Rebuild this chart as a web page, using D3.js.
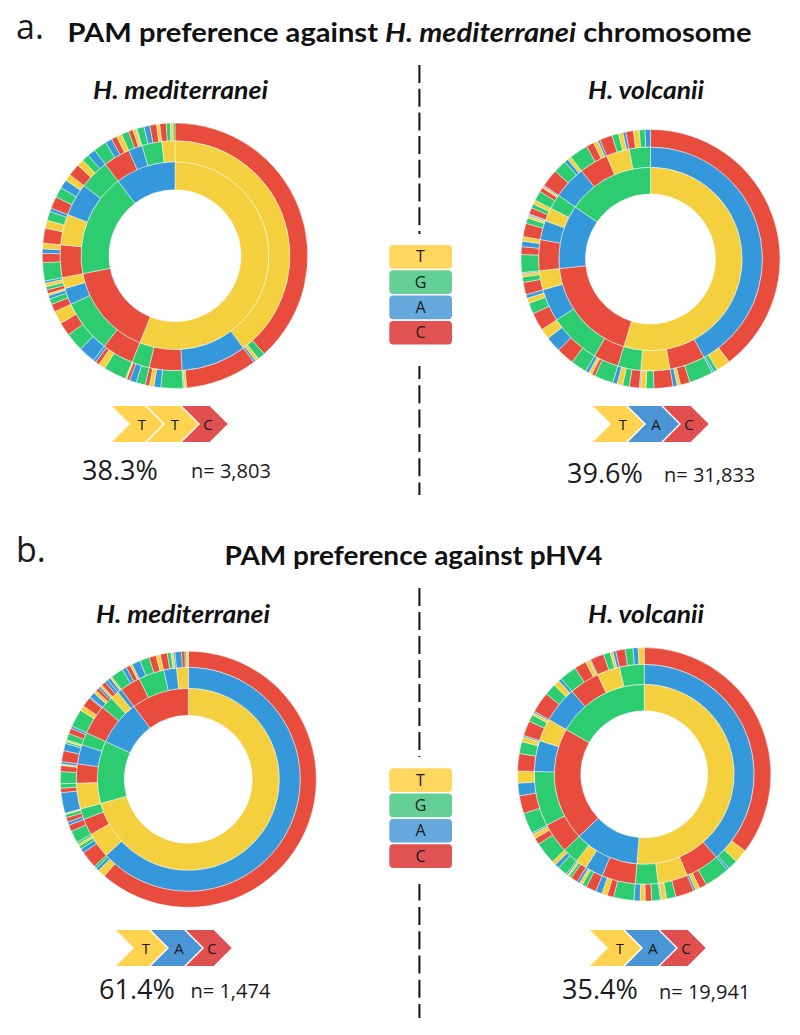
<!DOCTYPE html>
<html><head><meta charset="utf-8">
<style>html,body{margin:0;padding:0;background:#fff}svg{display:block}</style>
<script src="https://cdn.jsdelivr.net/npm/d3@7"></script></head>
<body><svg id="c" width="800" height="1035"></svg>
<script>
// Nucleotide order and colours
const bases = ["T","G","A","C"];
const ringColors = ["#f4d03f","#2ecc71","#3498db","#e74c3c"];
const keyColors = ["#ffd75e","#64cf96","#65a8db","#e15252"];
const arrowColors = ["#ffd34f","#64cf96","#4a95d5","#e05050"];

// H. mediterranei vs chromosome: share of reads (out of 360) per ring
const chrMedRing1Bases = "TCGA";
const chrMedRing1 = [202,57,63.7,37.3];
const chrMedRing2Bases = "TACG"+"CGAT"+"CTAG"+"CAGT";
const chrMedRing2 = [143.5,33,16.5,9, 16,27,8.4,5.6, 16.5,15.5,16.6,15.1, 13.6,7,10.1,6.6];
const chrMedRing3Bases = "CGTA"+"CTG"+"GATC"+"GACT"+"GTCA"+"AGCT"+"CGAT"+"CGTA"+"GCAT"+"CTGA"+"CGAT"+"CTGA"+"GACT"+"GCTA"+"GACT"+"CGTG";
const chrMedRing3 = [137.7,3.3,1.5,1, 31.5,1,.5, 9.7,3,2,1.8, 4,3,1.4,.6, 10,3,1.7,1.3, 7.4,8,6,5.6, 3.5,2.5,1.5,.9, 1.6,1.5,1.5,1, 8,4,2,2.5, 6.5,3.5,4,1.5, 5.3,4.5,3.9,2.9, 5.4,3,3.2,3.5, 5.8,3,2.5,2.3, 3.2,2,1.5,.3, 3.2,2.5,3,1.4, 2.8,1.8,1.2,.8];

// H. volcanii vs chromosome
const chrVolRing1Bases = "TCAG";
const chrVolRing1 = [197,67,40.7,55.3];
const chrVolRing2Bases = "ACTG"+"CGAT"+"CATG"+"ACTG";
const chrVolRing2 = [151.5,18.5,15,12, 13,27,17,10, 16,10,7,7.7, 17.3,15,12,11];
const chrVolRing3Bases = "CTGA"+"GCTA"+"CGTA"+"CGTA"+"GCTA"+"GCAT"+"CGTA"+"CGTA"+"GCAT"+"CGTA"+"ACGT"+"GCTA"+"CGAT"+"GCTA"+"CGTA"+"CTGA";
const chrVolRing3 = [142.6,6.4,1.7,.8, 10.8,4.3,1.5,1.9, 8.5,3.5,2.5,.5, 4.5,3,2.5,2, 8.5,1.5,1.5,1.5, 7.3,8,7,4.7, 8,5,2.3,1.7, 5.5,2.5,1.5,.5, 8,3.5,2.5,2, 6,2.5,1,.5, .4,2.9,1.9,1.8, 4.4,2,.8,.5, 8,5.9,1.7,1.7, 8.4,3.5,2.1,1, 5.7,3,2,1.3, 3.4,2.6,2.6,2.4];

// H. mediterranei vs pHV4
const phvMedRing1Bases = "TGAC";
const phvMedRing1 = [254.6,40,28.7,36.7];
const phvMedRing2Bases = "ATCG"+"TCAG"+"CGTA"+"CGAT";
const phvMedRing2 = [227.2,13.3,8.5,5.6, 13.4,10,10,6.6, 15.4,6.5,4.5,2.3, 10.7,13.3,6.7,6];
const phvMedRing3Bases = "CTAG"+"CAGTG"+"GC"+"ACGT"+"ACG"+"GCTA"+"CAGT"+"GCA"+"GTCA"+"ATCA"+"TCA"+"AT"+"GACT"+"AGCT"+"CGTA"+"ACGT";
const phvMedRing3 = [221,3.5,1.5,1.2, 7.8,2,1.5,1,1, 5.5,3, 1.5,2,1.5,.6, 9.4,2,2, 5.5,2.7,.7,1.1, 5,3.3,.9,.8, 3,2.5,1.1, 8.1,2.3,4.5,.5, 2.5,1.5,1.5,1, 1,2,1.5, 1.4,.9, 5.7,2,2,1, 3.8,4.4,3.2,1.9, 3.2,1.7,1.1,.7, 3,1.5,.8,.7];

// H. volcanii vs pHV4
const phvVolRing1Bases = "TACG";
const phvVolRing1 = [184.7,41.7,73.5,60.1];
const phvVolRing2Bases = "ACTG"+"CATG"+"CGAT"+"ACTG";
const phvVolRing2 = [139,18,15.7,12, 17.8,9.5,6,8.4, 16,29.1,16.4,12, 19.1,16,12,13];
const phvVolRing3Bases = "CTGA"+"GCTA"+"CGTA"+"GCTA"+"GCTA"+"CGTA"+"CGTA"+"GAT"+"GCTA"+"GCAT"+"CGTA"+"CGTA"+"CGTA"+"GCTA"+"CGTA"+"CGAT";
const phvVolRing3 = [127.3,6.1,4.6,1, 11.6,3.4,2,1, 8.5,4.3,2.4,.5, 3.9,3,2.3,2.8, 9.3,3,2.6,2.9, 4.7,2.1,1.4,1.3, 3.2,1.3,.8,.7, 4.5,2,1.9, 10.1,3,2.2,.7, 9.6,8.2,5.8,5.5, 8,5.5,2.2,.7, 6.9,3.2,1.2,.7, 9.5,5.4,2.8,1.4, 8,5.5,2,.5, 6.3,3.1,1.3,1.3, 4.3,3.6,2.4,2.7];

const motifs = ["TTC","TAC","TAC","TAC"];
const percents = ["38.3%","39.6%","61.4%","35.4%"];
const counts = ["n= 3,803","n= 31,833","n= 1,474","n= 19,941"];

const color = d3.scaleOrdinal(bases, ringColors);
const keyColor = d3.scaleOrdinal(bases, keyColors);
const arrowColor = d3.scaleOrdinal(bases, arrowColors);

const svg = d3.select("#c");
const sans = "'Open Sans',sans-serif", title = "Lato,sans-serif", ink = "#1a1a1a";

const panels = [
 {cx:175,cy:255.7,r:[66,94,115,132.7],rings:[[chrMedRing1Bases,chrMedRing1],[chrMedRing2Bases,chrMedRing2],[chrMedRing3Bases,chrMedRing3]],ax:112,ay:406,px:82,py:480,nx:191,ny:478},
 {cx:650.5,cy:259,r:[65,91.7,112,129.5],rings:[[chrVolRing1Bases,chrVolRing1],[chrVolRing2Bases,chrVolRing2],[chrVolRing3Bases,chrVolRing3]],ax:593,ay:406,px:567,py:483,nx:664,ny:482},
 {cx:188.3,cy:779.3,r:[64,91,112,128],rings:[[phvMedRing1Bases,phvMedRing1],[phvMedRing2Bases,phvMedRing2],[phvMedRing3Bases,phvMedRing3]],ax:116,ay:930,px:99,py:999,nx:190.5,ny:998},
 {cx:644.2,cy:774.3,r:[63.5,90,110,126.7],rings:[[phvVolRing1Bases,phvVolRing1],[phvVolRing2Bases,phvVolRing2],[phvVolRing3Bases,phvVolRing3]],ax:590,ay:930,px:562,py:999,nx:659,ny:999}
];

const pie = d3.pie().sort(null);
const arc = d3.arc();
const chevron = d3.line();

panels.forEach((p,i)=>{
  const g = svg.append("g").attr("transform",`translate(${p.cx},${p.cy})`);
  p.rings.forEach(([letters,vals],k)=>{
    g.append("g").selectAll("path").data(pie(vals)).join("path")
      .attr("d",d=>arc({innerRadius:p.r[k],outerRadius:p.r[k+1],startAngle:d.startAngle,endAngle:d.endAngle}))
      .attr("fill",d=>color(letters[d.index]))
      .attr("stroke","#fff").attr("stroke-opacity",.75).attr("stroke-width",.6);
  });
  // motif arrows: the last one is slightly shorter, as drawn in the reference
  motifs[i].split("").forEach((b,j)=>{
    const x=p.ax+j*35, y=p.ay, flat=j<2?33:27.7;
    svg.append("path").attr("d",chevron([[x,y],[x+flat,y],[x+flat+18,y+18],[x+flat,y+36],[x,y+36],[x+18,y+18]])+"Z").attr("fill",arrowColor(b));
    svg.append("text").attr("x",x+[30,28,26][j]).attr("y",y+23.5).attr("text-anchor","middle").attr("font-family",sans).attr("font-size",15).attr("fill",ink).text(b);
  });
  svg.append("text").attr("x",p.px).attr("y",p.py).attr("font-family",sans).attr("font-size",27).attr("fill",ink).text(percents[i]);
  svg.append("text").attr("x",p.nx).attr("y",p.ny).attr("font-family",sans).attr("font-size",20).attr("fill",ink).text(counts[i]);
});

// titles
function label(x,y,size,weight,parts,len){
  const t=svg.append("text").attr("x",x).attr("y",y).attr("font-family",title).attr("font-size",size).attr("font-weight",weight).attr("fill","#111");
  parts.forEach(([s,it])=>t.append("tspan").attr("font-style",it?"italic":"normal").text(s));
  if(len) t.attr("textLength",len).attr("lengthAdjust","spacingAndGlyphs");
}
svg.append("text").attr("x",16).attr("y",39).attr("font-family",sans).attr("font-size",34).attr("fill",ink).text("a.");
svg.append("text").attr("x",16).attr("y",562).attr("font-family",sans).attr("font-size",34).attr("fill",ink).text("b.");
label(67.5,41.7,27,700,[["PAM preference against "],["H. mediterranei",1],[" chromosome"]],684);
label(224.5,565,27,700,[["PAM preference against pHV4"]],378);
label(93,99,25,700,[["H. mediterranei",1]],175);
label(588,99,25,700,[["H. volcanii",1]],116);
label(96,623,25,700,[["H. mediterranei",1]],174);
label(588,623,25,700,[["H. volcanii",1]],116);

// dashed divider
[[65,234,0,23.7],[366,495,5,24.3],[588,757,0,24],[884,1018,1.4,24.3]].forEach(([a,b,off,per])=>{
  svg.append("line").attr("x1",419.4).attr("x2",419.4).attr("y1",a).attr("y2",b).attr("stroke","#111").attr("stroke-width",2)
    .attr("stroke-dasharray",`18 ${per-18}`).attr("stroke-dashoffset",off);
});

// key
[245,768.3].forEach(y0=>{
  bases.forEach((b,i)=>{
    const y=y0+i*25.3;
    svg.append("rect").attr("x",389.3).attr("y",y).attr("width",62.7).attr("height",23.7).attr("rx",4).attr("fill",keyColor(b));
    svg.append("text").attr("x",420.5).attr("y",y+17.4).attr("text-anchor","middle").attr("font-family",sans).attr("font-size",16).attr("fill",ink).text(b);
  });
});
</script></body></html>
